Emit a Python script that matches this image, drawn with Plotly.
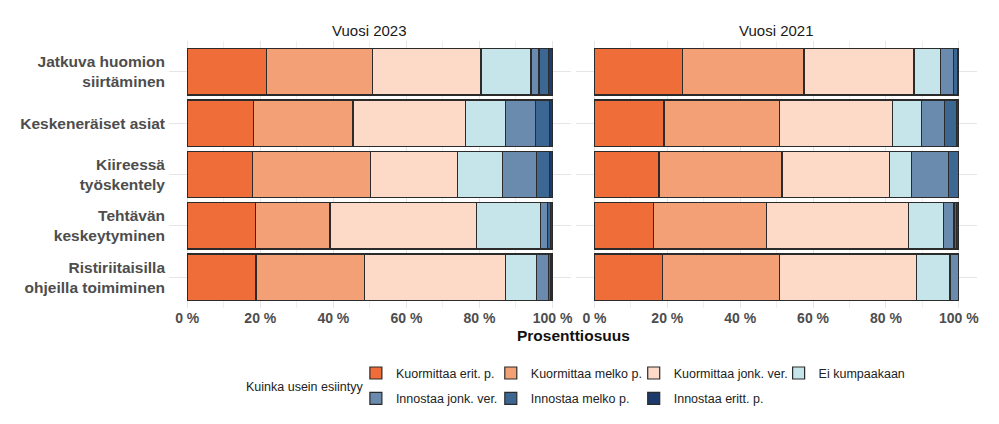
import plotly.graph_objects as go

# ---- data ----
categories = [
    "Jatkuva huomion<br>siirtäminen",
    "Keskeneräiset asiat",
    "Kiireessä<br>työskentely",
    "Tehtävän<br>keskeytyminen",
    "Ristiriitaisilla<br>ohjeilla toimiminen",
]
responses = [
    "Kuormittaa erit. p.",
    "Kuormittaa melko p.",
    "Kuormittaa jonk. ver.",
    "Ei kumpaakaan",
    "Innostaa jonk. ver.",
    "Innostaa melko p.",
    "Innostaa eritt. p.",
]
years = ["Vuosi 2023", "Vuosi 2021"]

# percent shares, one row per category (order of responses)
jatkuva_2023 = [21.7, 29.0, 29.7, 13.7, 2.2, 2.5, 1.2]
keskeneraiset_2023 = [18.1, 27.3, 30.8, 11.0, 8.1, 3.9, 0.8]
kiireessa_2023 = [17.9, 32.3, 23.7, 12.5, 9.2, 3.6, 0.8]
tehtavan_2023 = [18.6, 20.5, 40.2, 17.5, 1.9, 0.7, 0.6]
ristiriitaisilla_2023 = [18.8, 29.7, 38.7, 8.5, 3.3, 0.6, 0.4]

jatkuva_2021 = [24.2, 33.3, 30.2, 7.3, 3.6, 1.0, 0.4]
keskeneraiset_2021 = [19.1, 31.6, 31.1, 7.9, 6.4, 3.2, 0.7]
kiireessa_2021 = [17.7, 33.8, 29.5, 6.0, 10.1, 2.9, 0.0]
tehtavan_2021 = [16.1, 31.2, 39.0, 9.5, 2.9, 0.7, 0.6]
ristiriitaisilla_2021 = [18.6, 32.1, 37.8, 9.1, 2.4, 0.0, 0.0]

tick_values = [0, 20, 40, 60, 80, 100]
tick_labels = ["0 %", "20 %", "40 %", "60 %", "80 %", "100 %"]

# ---- style ----
colors = ["#EF6D38", "#F4A077", "#FCDAC7", "#C6E5EB", "#6A8AAE", "#3C6793", "#1C3B6C"]
FONT = "Liberation Sans, Arial, sans-serif"

data_by_year = [
    [jatkuva_2023, keskeneraiset_2023, kiireessa_2023, tehtavan_2023, ristiriitaisilla_2023],
    [jatkuva_2021, keskeneraiset_2021, kiireessa_2021, tehtavan_2021, ristiriitaisilla_2021],
]

# one legend box per entry, laid out in a 4-column / 2-row grid
legend_ids = ["legend"] + ["legend%d" % k for k in range(2, len(responses) + 1)]

fig = go.Figure()
for yi, rows in enumerate(data_by_year):
    xa = "x" if yi == 0 else "x2"
    for j, resp in enumerate(responses):
        fig.add_trace(go.Bar(
            y=categories,
            x=[r[j] for r in rows],
            orientation="h",
            name=resp,
            legendgroup=resp,
            legend=legend_ids[j],
            showlegend=(yi == 0),
            marker=dict(color=colors[j], line=dict(color="#2b2b2b", width=1.2)),
            xaxis=xa, yaxis="y",
            hovertemplate=resp + ": %{x:.1f} %<extra></extra>",
        ))

# page body adds an 8px offset; figure coordinates = window pixels - 8
OFF = 8
W, H = 999 - 2 * OFF, 424 - 2 * OFF
ML = 169 - OFF
MR = W - (977.5 - OFF)
MT = 40.5 - OFF
MB = H - (308 - OFF)
PW = W - ML - MR
PH = H - MT - MB
left_dom = [0, (571 - OFF - ML) / PW]
right_dom = [(576.5 - OFF - ML) / PW, 1]


def px_y(py):
    """window pixel row -> paper y"""
    return (H - MB - (py - OFF)) / PH


def px_x(px):
    """window pixel column -> paper x"""
    return (px - OFF - ML) / PW


xaxis_common = dict(
    range=[-5, 105],
    tickvals=tick_values,
    ticktext=tick_labels,
    showgrid=True, gridcolor="#E6E6E6", gridwidth=1,
    minor=dict(dtick=10, showgrid=True, gridcolor="#EFEFEF", gridwidth=0.8),
    zeroline=False, showline=False, ticks="",
    tickfont=dict(family=FONT, size=14, color="#4D4D4D", weight="bold"),
    anchor="y",
    fixedrange=True,
)

legend_cols = [368, 503, 646, 791]     # window px of each legend column
legend_rows = [373.5, 399]             # window px of each legend row
legend_layout = {}
for j, lid in enumerate(legend_ids):
    col, row = j % 4, j // 4
    legend_layout[lid] = dict(
        orientation="h",
        x=px_x(legend_cols[col] - 12), xanchor="left",
        y=px_y(legend_rows[row]), yanchor="middle",
        font=dict(family=FONT, size=12.5, color="#222222"),
        bgcolor="rgba(0,0,0,0)",
    )

fig.update_layout(
    width=W, height=H,
    margin=dict(l=ML, r=MR, t=MT, b=MB, autoexpand=False),
    paper_bgcolor="white", plot_bgcolor="white",
    barmode="stack", bargap=0.1,
    font=dict(family=FONT, color="#222222"),
    xaxis=dict(domain=left_dom, **xaxis_common),
    xaxis2=dict(domain=right_dom, **xaxis_common),
    yaxis=dict(
        domain=[0, 1],
        categoryorder="array", categoryarray=categories,
        range=[4.6, -0.6],
        showgrid=True, gridcolor="#E6E6E6", gridwidth=1,
        zeroline=False, showline=False, ticks="",
        ticklabelstandoff=3,
        tickfont=dict(family=FONT, size=15.5, color="#4D4D4D", weight="bold"),
        fixedrange=True,
    ),
    showlegend=True,
    **legend_layout,
)

# legend title
fig.add_annotation(
    x=px_x(244), y=px_y(387), xref="paper", yref="paper",
    text="Kuinka usein esiintyy", showarrow=False, xanchor="left", yanchor="middle",
    font=dict(family=FONT, size=12.5, color="#222222"),
)

# facet strip titles
for dom, title in zip([left_dom, right_dom], years):
    fig.add_annotation(
        x=(dom[0] + dom[1]) / 2, y=px_y(30), xref="paper", yref="paper",
        text=title, showarrow=False, xanchor="center", yanchor="middle",
        font=dict(family=FONT, size=15, color="#1A1A1A"),
    )

# shared x axis title
fig.add_annotation(
    x=0.5, y=px_y(336), xref="paper", yref="paper",
    text="<b>Prosenttiosuus</b>", showarrow=False, xanchor="center", yanchor="middle",
    font=dict(family=FONT, size=15.5, color="#111111"),
)

fig.write_html("out.html")
